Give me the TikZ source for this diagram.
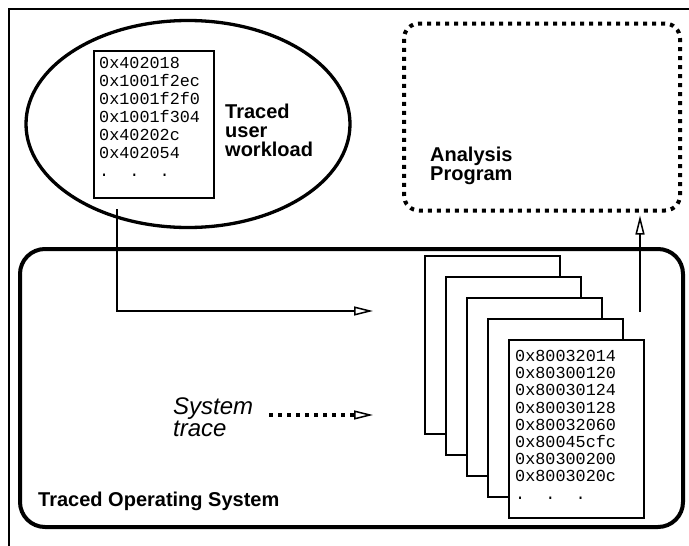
\documentclass[tikz,border=0pt]{standalone}
\usepackage{fontspec}
\setmainfont{Liberation Sans}
\setmonofont{Liberation Mono}
\usetikzlibrary{shapes.geometric, arrows.meta, positioning}
\tikzstyle{outerframe} = [draw=black, line width=1.5pt]
\tikzstyle{page} = [rectangle, minimum width=135pt, minimum height=178pt, inner sep=0pt, draw=black, fill=white, line width=2pt]
\tikzstyle{addr} = [align=left, inner sep=0pt, font=\ttfamily\fontsize{16.8}{18}\selectfont]
\tikzstyle{boldtext} = [align=left, inner sep=0pt, font=\bfseries\fontsize{20}{19}\selectfont]
\tikzstyle{italictext} = [align=left, inner sep=0pt, font=\itshape\fontsize{24}{19}\selectfont]
\tikzstyle{dotbox} = [rectangle, rounded corners=15pt, draw=black, line width=4pt, dash pattern=on 4pt off 5pt]
\tikzstyle{arrow} = [line width=1.5pt, -{Triangle[open, length=19pt, width=9pt, line width=1.5pt]}]
\tikzstyle{dotarrow} = [arrow, line width=4pt, dash pattern=on 4pt off 5pt]

\begin{document}
\begin{tikzpicture}[x=1pt, y=-1pt, node distance=10pt]
      \useasboundingbox (0,0) rectangle (689,546);
      \draw [outerframe] (9,9) rectangle (700,560);

      % user side
      \node (user) [ellipse, draw=black, line width=3.3pt, minimum width=324pt, minimum height=207pt, inner sep=0pt] at (188,124) {};
      \node (userbox) [page, minimum width=120pt, minimum height=147pt, anchor=north west] at (93,50) {};
      \node (usertxt) [addr, below right=7pt and 6pt of userbox.north west] {0x402018\\0x1001f2ec\\0x1001f2f0\\0x1001f304\\0x40202c\\0x402054\\.\ \ .\ \ .};
      \node (userlbl) [boldtext, right=10pt of userbox, yshift=-6pt] {Traced\\user\\workload};

      \node (analysis) [dotbox, minimum width=276pt, minimum height=187pt] at (542,117) {};
      \node (analbl) [boldtext, anchor=north west] at ([xshift=28pt, yshift=-30pt]analysis.west) {Analysis\\Program};

      % operating system
      \node (os) [rectangle, rounded corners=25pt, draw=black, line width=4pt, minimum width=663pt, minimum height=278pt] at (351.5,388) {};
      \node (oslbl) [boldtext, anchor=north west] at ([xshift=20pt, yshift=37pt]os.south west) {Traced Operating System};

      \node (page1) [page, anchor=north west] at (424,255) {};
      \node (page2) [page, below right=21pt and 21pt of page1.north west] {};
      \node (page3) [page, below right=21pt and 21pt of page2.north west] {};
      \node (page4) [page, below right=21pt and 21pt of page3.north west] {};
      \node (page5) [page, below right=21pt and 21pt of page4.north west] {};
      \node (pagetxt) [addr, font=\ttfamily\fontsize{16.8}{17.2}\selectfont, below right=11pt and 7pt of page5.north west] {0x80032014\\0x80300120\\0x80030124\\0x80030128\\0x80032060\\0x80045cfc\\0x80300200\\0x8003020c\\.\ \ .\ \ .};

      \node (systrace) [italictext, anchor=north west] at (173,398) {System\\trace};

      \coordinate (userin) at (373,311);
      \coordinate (sysin) at (373,415);
      \coordinate (anaout) at (640,312);

      \draw [arrow] ([xshift=24pt, yshift=-10pt]userbox.south west) |- (userin);
      \draw [dotarrow, shorten <=16pt] (systrace.east |- sysin) -- (sysin);
      \draw [arrow, shorten >=3pt] (anaout) -- (anaout |- analysis.south);
    \end{tikzpicture}
\end{document}
